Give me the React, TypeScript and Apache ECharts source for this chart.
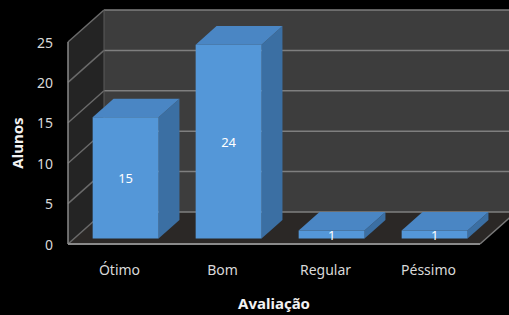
import React, { useEffect, useRef } from "react";
import * as echarts from "echarts";

const categories = ["Ótimo", "Bom", "Regular", "Péssimo"];
const alunos = [15, 24, 1, 1];
const yTicks = [0, 5, 10, 15, 20, 25];

const FONT = "'Noto Sans', 'DejaVu Sans', sans-serif";

export default function App() {
  const ref = useRef<HTMLDivElement>(null);
  useEffect(() => {
    const chart = echarts.init(ref.current!, null, { renderer: "svg" });
    const DX = 36;
    const DY = -32;
    const F1 = 0.17;
    const F2 = 0.75;

    const wallRender = (params: any, api: any) => {
      const cs = params.coordSys;
      const x0 = cs.x;
      const x1 = cs.x + cs.width;
      const yb = api.coord([0, 0])[1];
      const yt = api.coord([0, yTicks[yTicks.length - 1]])[1];
      const children: any[] = [];
      children.push({
        type: "polygon",
        shape: { points: [[x0 + DX, yt + DY], [x1 + DX, yt + DY], [x1 + DX, yb + DY], [x0 + DX, yb + DY]] },
        style: { fill: "#3d3d3d" },
      });
      children.push({
        type: "polygon",
        shape: { points: [[x0, yt], [x0 + DX, yt + DY], [x0 + DX, yb + DY], [x0, yb]] },
        style: { fill: "#242424" },
      });
      children.push({
        type: "polygon",
        shape: { points: [[x0, yb], [x1, yb], [x1 + DX, yb + DY], [x0 + DX, yb + DY]] },
        style: { fill: "#2b2826" },
      });
      yTicks.forEach((v) => {
        const y = api.coord([0, v])[1];
        children.push({
          type: "line",
          shape: { x1: x0 + DX, y1: y + DY, x2: x1 + DX, y2: y + DY },
          style: { stroke: "#7f7f7f", lineWidth: 1.5 },
        });
        children.push({
          type: "line",
          shape: { x1: x0, y1: y, x2: x0 + DX, y2: y + DY },
          style: { stroke: "#6a6a6a", lineWidth: 1.5 },
        });
      });
      children.push({
        type: "line",
        shape: { x1: x0 + DX, y1: yt + DY, x2: x0 + DX, y2: yb + DY },
        style: { stroke: "#5a5a5a", lineWidth: 1 },
      });
      children.push({
        type: "line",
        shape: { x1: x0, y1: yt, x2: x0, y2: yb },
        style: { stroke: "#8a8a8a", lineWidth: 1.5 },
      });
      children.push({
        type: "line",
        shape: { x1: x0, y1: yb, x2: x1, y2: yb },
        style: { stroke: "#8a8a8a", lineWidth: 2 },
      });
      children.push({
        type: "line",
        shape: { x1: x1, y1: yb, x2: x1 + DX, y2: yb + DY },
        style: { stroke: "#7a7a7a", lineWidth: 1.5 },
      });
      return { type: "group", children };
    };

    const barRender = (params: any, api: any) => {
      const idx = api.value(0);
      const val = api.value(1);
      const base = api.coord([idx, 0]);
      const top = api.coord([idx, val]);
      const bw = api.size([1, 0])[0] * 0.64;
      const ax = DX * F1, ay = DY * F1;
      const bx = DX * F2, by = DY * F2;
      const xL = base[0] - bw / 2;
      const xR = base[0] + bw / 2;
      const yT = top[1];
      const yB = base[1];
      const children: any[] = [];
      children.push({
        type: "polygon",
        shape: { points: [[xR + ax, yT + ay], [xR + bx, yT + by], [xR + bx, yB + by], [xR + ax, yB + ay]] },
        style: { fill: "#3b6fa3" },
      });
      children.push({
        type: "polygon",
        shape: { points: [[xL + ax, yT + ay], [xR + ax, yT + ay], [xR + bx, yT + by], [xL + bx, yT + by]] },
        style: { fill: "#4a86c4" },
      });
      children.push({
        type: "rect",
        shape: { x: xL + ax, y: yT + ay, width: bw, height: yB - yT },
        style: { fill: "#5497d8" },
      });
      children.push({
        type: "text",
        style: {
          text: String(val),
          x: base[0] + ax,
          y: (yT + yB) / 2 + ay,
          align: "center",
          verticalAlign: "middle",
          fill: "#ffffff",
          fontSize: 13,
          fontFamily: FONT,
        },
      });
      return { type: "group", children };
    };

    chart.setOption({
      animation: false,
      backgroundColor: "#000000",
      grid: { left: 68, right: 29, top: 42, bottom: 68 },
      xAxis: {
        type: "category",
        data: categories,
        axisLine: { show: false },
        axisTick: { show: false },
        axisLabel: { color: "#d9d9d9", fontSize: 14, margin: 18, fontFamily: FONT },
        name: "Avaliação",
        nameLocation: "middle",
        nameGap: 51,
        nameTextStyle: { color: "#f2f2f2", fontSize: 15, fontWeight: "bold", fontFamily: FONT },
      },
      yAxis: {
        type: "value",
        min: 0,
        max: 25,
        interval: 5,
        axisLine: { show: false },
        axisTick: { show: false },
        splitLine: { show: false },
        axisLabel: { color: "#d9d9d9", fontSize: 14, margin: 15, fontFamily: FONT },
        name: "Alunos",
        nameLocation: "middle",
        nameGap: 44,
        nameTextStyle: { color: "#f2f2f2", fontSize: 15, fontWeight: "bold", fontFamily: FONT },
      },
      series: [
        {
          type: "custom",
          renderItem: wallRender,
          data: [[0, 0]],
          z: 1,
          silent: true,
        },
        {
          type: "custom",
          renderItem: barRender,
          data: alunos.map((v, i) => [i, v]),
          encode: { x: 0, y: 1 },
          z: 2,
        },
      ],
    });
    return () => chart.dispose();
  }, []);
  return (
    <div
      ref={ref}
      style={{ position: "fixed", left: 0, top: 0, width: 509, height: 315 }}
    />
  );
}
